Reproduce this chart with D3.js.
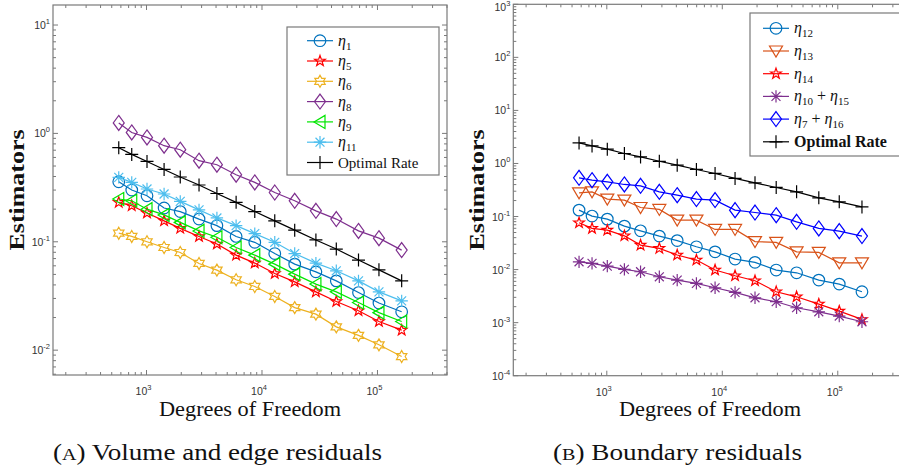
<!DOCTYPE html>
<html>
<head>
<meta charset="utf-8">
<script src="https://cdn.jsdelivr.net/npm/d3@7"></script>
<style>
  html, body { margin: 0; padding: 0; background: #fff; }
  svg { display: block; }
  .serif { font-family: "Liberation Serif", "Times New Roman", serif; }
</style>
</head>
<body>
<svg id="chart" width="899" height="473"></svg>
<script>
// ---------------- DATA ----------------
const dof = [575, 745, 1010, 1420, 1960, 2850, 4070, 5970, 8660, 12900, 19200, 29300, 44000, 68500, 103000, 162000];

// Panel A: volume and edge residuals
const eta1  = [0.358, 0.300, 0.266, 0.205, 0.190, 0.162, 0.141, 0.112, 0.0989, 0.0779, 0.0622, 0.0528, 0.0436, 0.0340, 0.0272, 0.0226];
const eta5  = [0.231, 0.215, 0.184, 0.156, 0.133, 0.112, 0.0953, 0.0753, 0.0636, 0.0509, 0.0427, 0.0345, 0.0281, 0.0231, 0.0184, 0.0153];
const eta6  = [0.120, 0.112, 0.100, 0.0886, 0.0796, 0.0631, 0.0548, 0.0446, 0.0387, 0.0313, 0.0247, 0.0215, 0.0164, 0.0137, 0.0112, 0.00873];
const eta8  = [1.25, 1.02, 0.918, 0.770, 0.707, 0.560, 0.514, 0.416, 0.353, 0.285, 0.239, 0.193, 0.162, 0.126, 0.108, 0.0838];
const eta9  = [0.248, 0.239, 0.200, 0.177, 0.151, 0.126, 0.110, 0.0886, 0.0753, 0.0622, 0.0503, 0.0407, 0.0345, 0.0275, 0.0222, 0.0184];
const eta11 = [0.393, 0.353, 0.307, 0.276, 0.236, 0.197, 0.166, 0.141, 0.119, 0.0989, 0.0779, 0.0636, 0.0540, 0.0436, 0.0345, 0.0285];
const optA  = [0.738, 0.640, 0.551, 0.465, 0.396, 0.334, 0.279, 0.231, 0.190, 0.156, 0.128, 0.104, 0.0857, 0.0678, 0.0551, 0.0436];

// Panel B: boundary residuals
const eta12    = [0.132, 0.102, 0.0894, 0.0659, 0.0538, 0.0428, 0.0352, 0.0269, 0.0216, 0.0158, 0.0137, 0.0098, 0.0087, 0.00634, 0.00533, 0.00382];
const eta13    = [0.279, 0.292, 0.213, 0.204, 0.148, 0.136, 0.0855, 0.0855, 0.0571, 0.0571, 0.0337, 0.0325, 0.0216, 0.0211, 0.0134, 0.0134];
const eta14    = [0.0761, 0.0597, 0.0554, 0.0433, 0.0289, 0.0251, 0.0188, 0.0151, 0.0098, 0.00764, 0.00615, 0.00382, 0.00307, 0.00224, 0.00165, 0.00115];
const eta10_15 = [0.0140, 0.0131, 0.0116, 0.0101, 0.0091, 0.00732, 0.00634, 0.00549, 0.00454, 0.00372, 0.00294, 0.00248, 0.00191, 0.00160, 0.00133, 0.00104];
const eta7_16  = [0.536, 0.485, 0.450, 0.402, 0.379, 0.292, 0.253, 0.213, 0.204, 0.132, 0.119, 0.106, 0.0794, 0.0597, 0.0531, 0.0428];
const optB     = [2.44, 2.14, 1.86, 1.54, 1.33, 1.10, 0.929, 0.771, 0.648, 0.522, 0.431, 0.353, 0.292, 0.225, 0.189, 0.152];

// Tick labels (exponents of 10)
const xTickExpA = [3, 4, 5];
const yTickExpA = [-2, -1, 0, 1];
const xTickExpB = [3, 4, 5];
const yTickExpB = [-4, -3, -2, -1, 0, 1, 2, 3];

const seriesA = [
  { name: ["1"],        values: eta1,  color: "#0072BD", marker: "circle" },
  { name: ["5"],        values: eta5,  color: "#FF0000", marker: "pentagram" },
  { name: ["6"],        values: eta6,  color: "#EDB120", marker: "hexagram" },
  { name: ["8"],        values: eta8,  color: "#7E2F8E", marker: "diamond" },
  { name: ["9"],        values: eta9,  color: "#00E600", marker: "triLeft" },
  { name: ["11"],       values: eta11, color: "#4DBEEE", marker: "asterisk" },
  { name: "Optimal Rate", values: optA, color: "#000000", marker: "plus" }
];
const seriesB = [
  { name: ["12"],        values: eta12,    color: "#0072BD", marker: "circle" },
  { name: ["13"],        values: eta13,    color: "#D95319", marker: "triDown" },
  { name: ["14"],        values: eta14,    color: "#FF0000", marker: "pentagram" },
  { name: ["10", "15"],  values: eta10_15, color: "#7E2F8E", marker: "asterisk" },
  { name: ["7", "16"],   values: eta7_16,  color: "#0000FF", marker: "diamond" },
  { name: "Optimal Rate", values: optB,    color: "#000000", marker: "plus" }
];

// ---------------- DRAWING ----------------
const svg = d3.select("#chart");
const AXIS = "#7a7a7a";
const TICKTXT = "#333";
const SANS = "'Liberation Sans', Arial, sans-serif";

function markerPath(type) {
  const p = d3.path();
  if (type === "pentagram" || type === "hexagram") {
    const n = type === "pentagram" ? 5 : 6;
    const R = type === "pentagram" ? 5.6 : 6.0;
    const r = type === "pentagram" ? R * 0.40 : R * 0.58;
    for (let i = 0; i < 2 * n; i++) {
      const a = -Math.PI / 2 + i * Math.PI / n;
      const rr = i % 2 === 0 ? R : r;
      const x = rr * Math.cos(a), y = rr * Math.sin(a);
      if (i === 0) p.moveTo(x, y); else p.lineTo(x, y);
    }
    p.closePath();
  } else if (type === "diamond") {
    p.moveTo(0, -7.5); p.lineTo(5.5, 0); p.lineTo(0, 7.5); p.lineTo(-5.5, 0); p.closePath();
  } else if (type === "triLeft") {
    p.moveTo(-6, 0); p.lineTo(5, -6.5); p.lineTo(5, 6.5); p.closePath();
  } else if (type === "triDown") {
    p.moveTo(-6.5, -5); p.lineTo(6.5, -5); p.lineTo(0, 6); p.closePath();
  } else if (type === "asterisk") {
    const R = 6.2, d = R * 0.72;
    p.moveTo(-R, 0); p.lineTo(R, 0);
    p.moveTo(0, -R); p.lineTo(0, R);
    p.moveTo(-d, -d); p.lineTo(d, d);
    p.moveTo(-d, d); p.lineTo(d, -d);
  } else if (type === "plus") {
    const R = 6.5;
    p.moveTo(-R, 0); p.lineTo(R, 0);
    p.moveTo(0, -R); p.lineTo(0, R);
  }
  return p.toString();
}

function drawMarker(g, type, x, y, color) {
  if (type === "circle") {
    g.append("circle").attr("cx", x).attr("cy", y).attr("r", 5.8)
      .attr("fill", "none").attr("stroke", color).attr("stroke-width", 1.2);
  } else {
    g.append("path").attr("d", markerPath(type)).attr("transform", `translate(${x},${y})`)
      .attr("fill", "none").attr("stroke", color).attr("stroke-width", 1.2)
      .attr("stroke-linejoin", "miter");
  }
}

function powerLabel(g, x, y, exp, anchor) {
  const t = g.append("text").attr("x", x).attr("y", y)
    .attr("font-family", SANS)
    .attr("font-size", 10.5).attr("fill", TICKTXT).attr("text-anchor", anchor);
  t.append("tspan").text("10");
  t.append("tspan").attr("dy", -5).attr("font-size", 7.5).text(String(exp));
}

function legendLabel(g, x, y, name, bold) {
  const t = g.append("text").attr("class", "serif").attr("x", x).attr("y", y)
    .attr("fill", "#111");
  if (typeof name === "string") {
    t.attr("font-size", bold ? 16 : 15).attr("font-weight", bold ? "bold" : "normal").text(name);
    return;
  }
  t.attr("font-size", 16);
  name.forEach((sub, i) => {
    if (i > 0) t.append("tspan").attr("dy", -4).attr("font-style", "normal").text(" + ");
    t.append("tspan").attr("font-style", "italic").text("η");
    t.append("tspan").attr("font-size", 11).attr("dy", 4).text(sub);
  });
}

function drawPanel(cfg) {
  const g = svg.append("g");
  const x = d3.scaleLog().domain([155, 4e5]).range([cfg.x0, cfg.x0 + 394]);
  const y = d3.scaleLog().domain(cfg.yDomain).range([cfg.yBottom, cfg.yTop]);
  const [xa, xb] = x.range();
  const yb = cfg.yBottom, yt = cfg.yTop;

  const clipId = "clip" + cfg.id;
  svg.append("clipPath").attr("id", clipId).append("rect")
    .attr("x", xa).attr("y", yt).attr("width", xb - xa).attr("height", yb - yt);

  // minor & major ticks (log), inward, on all four sides
  const tg = g.append("g").attr("stroke", AXIS).attr("stroke-width", 1);
  const xd = x.domain();
  for (let e = Math.floor(Math.log10(xd[0])); e <= Math.ceil(Math.log10(xd[1])); e++) {
    for (let m = 1; m <= 9; m++) {
      const v = m * Math.pow(10, e);
      if (v < xd[0] || v > xd[1]) continue;
      const px = x(v), len = m === 1 ? 5 : 3;
      tg.append("line").attr("x1", px).attr("x2", px).attr("y1", yb).attr("y2", yb - len);
      tg.append("line").attr("x1", px).attr("x2", px).attr("y1", yt).attr("y2", yt + len);
    }
  }
  const yd = y.domain();
  for (let e = Math.floor(Math.log10(yd[0])); e <= Math.ceil(Math.log10(yd[1])); e++) {
    for (let m = 1; m <= 9; m++) {
      const v = m * Math.pow(10, e);
      if (v < yd[0] * 0.999 || v > yd[1] * 1.001) continue;
      const py = y(v), len = m === 1 ? 5 : 3;
      tg.append("line").attr("y1", py).attr("y2", py).attr("x1", xa).attr("x2", xa + len);
      tg.append("line").attr("y1", py).attr("y2", py).attr("x1", xb).attr("x2", xb - len);
    }
  }
  g.append("rect").attr("x", xa).attr("y", yt).attr("width", xb - xa).attr("height", yb - yt)
    .attr("fill", "none").attr("stroke", AXIS).attr("stroke-width", 1.2);

  // tick labels
  cfg.xTicks.forEach(e => powerLabel(g, x(Math.pow(10, e)) - 3, yb + 20, e, "middle"));
  cfg.yTicks.forEach(e => {
    const py = Math.max(y(Math.pow(10, e)) + 4, 11);
    powerLabel(g, xa - 3, py, e, "end");
  });

  // series
  const pg = g.append("g").attr("clip-path", `url(#${clipId})`);
  const line = d3.line().x((d, i) => x(dof[i])).y(d => y(d));
  cfg.series.forEach(s => {
    pg.append("path").datum(s.values).attr("d", line)
      .attr("fill", "none").attr("stroke", s.color).attr("stroke-width", 1.2);
    s.values.forEach((v, i) => drawMarker(pg, s.marker, x(dof[i]), y(v), s.color));
  });

  // legend
  const L = cfg.legend;
  const lg = g.append("g");
  lg.append("rect").attr("x", L.x).attr("y", L.y).attr("width", L.w).attr("height", L.h)
    .attr("fill", "#fff").attr("stroke", AXIS).attr("stroke-width", 1.2);
  cfg.series.forEach((s, i) => {
    const cy = L.y0 + i * L.dy;
    lg.append("line").attr("x1", L.lx).attr("x2", L.lx + 26).attr("y1", cy).attr("y2", cy)
      .attr("stroke", s.color).attr("stroke-width", 1.2);
    drawMarker(lg, s.marker, L.lx + 13, cy, s.color);
    legendLabel(lg, L.lx + 31, cy + 5, s.name, cfg.boldOptimal);
  });

  // axis titles
  g.append("text").attr("class", "serif")
    .attr("x", cfg.xLabelX).attr("y", 416)
    .attr("text-anchor", "middle")
    .attr("font-size", 22).attr("fill", "#111")
    .attr("textLength", 182).attr("lengthAdjust", "spacingAndGlyphs")
    .text("Degrees of Freedom");
  g.append("text").attr("class", "serif")
    .attr("transform", `translate(${cfg.yLabelX},190) rotate(-90)`)
    .attr("text-anchor", "middle")
    .attr("font-size", 21).attr("font-weight", "bold").attr("fill", "#111")
    .attr("textLength", 121).attr("lengthAdjust", "spacingAndGlyphs")
    .text("Estimators");

  // caption
  const cap = g.append("text").attr("class", "serif").attr("x", cfg.capX).attr("y", 460)
    .attr("font-size", 23).attr("fill", "#111")
    .attr("textLength", cfg.capLen).attr("lengthAdjust", "spacingAndGlyphs");
  cap.append("tspan").text("(");
  cap.append("tspan").attr("font-size", 17).text(cfg.capLetter);
  cap.append("tspan").text(")  " + cfg.capText);
}

drawPanel({
  id: "A", x0: 53, yDomain: [0.0059, 15.3], yBottom: 375, yTop: 5,
  xTicks: xTickExpA, yTicks: yTickExpA, series: seriesA,
  legend: { x: 287, y: 27, w: 152, h: 148, y0: 40.7, dy: 20.3, lx: 307 },
  boldOptimal: false,
  xLabelX: 250, yLabelX: 24,
  capX: 53, capLen: 329, capLetter: "A", capText: "Volume and edge residuals"
});

drawPanel({
  id: "B", x0: 513.3, yDomain: [1e-4, 1e3], yBottom: 375.7, yTop: 4.3,
  xTicks: xTickExpB, yTicks: yTickExpB, series: seriesB,
  legend: { x: 750, y: 13, w: 160, h: 143, y0: 28.3, dy: 22.7, lx: 763 },
  boldOptimal: true,
  xLabelX: 710, yLabelX: 484,
  capX: 553, capLen: 249, capLetter: "B", capText: "Boundary residuals"
});
</script>
</body>
</html>
